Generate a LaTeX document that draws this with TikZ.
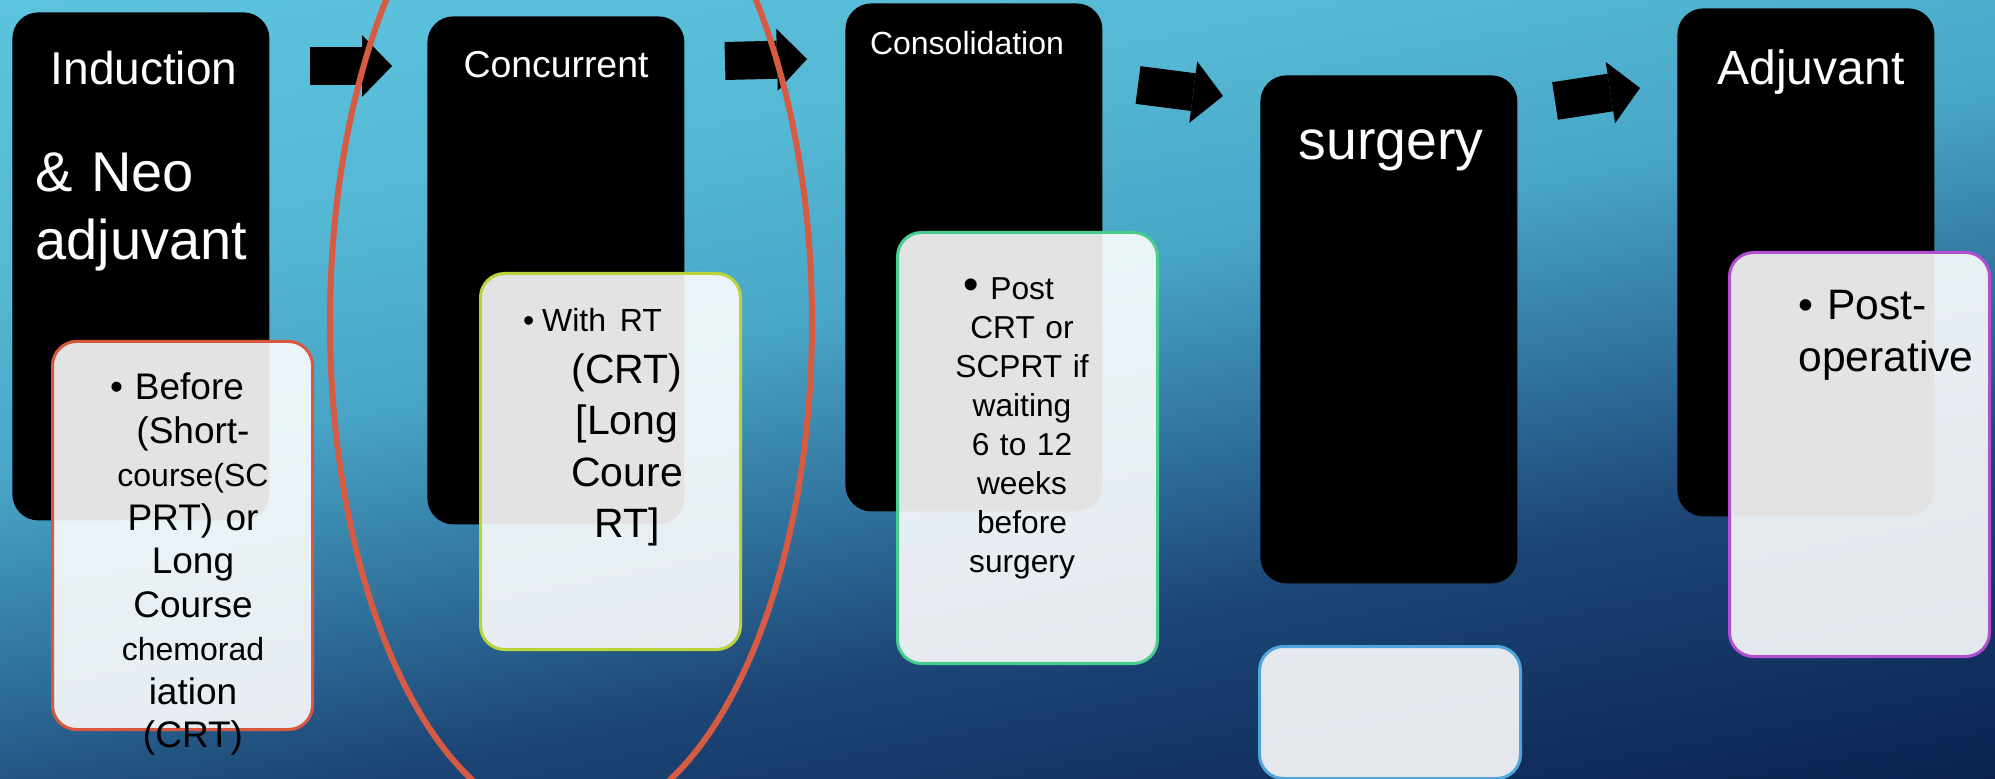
\documentclass[tikz,border=0pt]{standalone}
\usepackage{fontspec}
\setmainfont{Liberation Sans}
\usetikzlibrary{arrows.meta}
\definecolor{bgA}{HTML}{5DC4DE}
\definecolor{bgB}{HTML}{55B8D4}
\definecolor{bgC}{HTML}{48A5C6}
\definecolor{bgD}{HTML}{2F6F9A}
\definecolor{bgE}{HTML}{1C4676}
\definecolor{bgF}{HTML}{0B2250}
\definecolor{ringRed}{HTML}{D75A43}
\definecolor{edgeRed}{HTML}{D9573F}
\definecolor{edgeLime}{HTML}{B9D43B}
\definecolor{edgeGreen}{HTML}{47CD8C}
\definecolor{edgeBlue}{HTML}{4EA6DC}
\definecolor{edgePurple}{HTML}{B24FD0}

\tikzset{
  stagebox/.style={rounded corners=13pt, fill=black, minimum width=128.5pt,
    minimum height=254pt, inner sep=0pt, anchor=north west},
  notebox/.style={rounded corners=12pt, fill=white, fill opacity=0.89,
    line width=1.5pt, minimum width=130pt, inner sep=0pt, anchor=north west},
  stagetitle/.style={text=white, inner sep=0pt, anchor=base},
  notetext/.style={text=black, inner sep=0pt, anchor=base, align=center},
  flowarrow/.style={line width=19pt,
    -{Triangle[length=15pt, width=31pt, line width=0pt]}},
}

\begin{document}
\begin{tikzpicture}[x=0.5pt, y=-0.5pt]
\useasboundingbox (0,0) rectangle (1995,779);
% backdrop, tilted bands
\begin{scope}
\clip (0,0) rectangle (1995,779);
\begin{scope}[transform canvas={rotate around={11:(997.5,389.5)}}]
\foreach \sa/\sb/\ca/\cb in {-800/-573/bgA/bgA, -573/-300/bgA/bgB,
    -300/-100/bgB/bgC, -100/100/bgC/bgD, 100/250/bgD/bgE,
    250/573/bgE/bgF, 573/800/bgF/bgF}
  \shade[top color=\ca, bottom color=\cb] (-500,389.5+\sa) rectangle (2500,390.5+\sb);
\end{scope}
\end{scope}

% stages
\node[stagebox] (induction) at (12,12) {};
\node[stagebox] (concurrent) at (427,16) {};
\node[stagebox] (consolidation) at (845,3) {};
\node[stagebox] (surgery) at (1260,75) {};
\node[stagebox] (adjuvant) at (1677,8) {};

% arrows between stages
\coordinate (a1s) at (310,66);   \coordinate (a1e) at (392,66);
\coordinate (a2s) at (725,61);   \coordinate (a2e) at (807,59);
\coordinate (a3s) at (1138,85);  \coordinate (a3e) at (1223,96);
\coordinate (a4s) at (1555,101); \coordinate (a4e) at (1640,88);
\draw[flowarrow] (a1s) -- (a1e);
\draw[flowarrow] (a2s) -- (a2e);
\draw[flowarrow] (a3s) -- (a3e);
\draw[flowarrow] (a4s) -- (a4e);

% notes
\node[notebox, draw=edgeRed, minimum height=194pt] (beforeNote) at (51,340) {};
\node[notebox, draw=edgeLime, minimum height=188pt] (withNote) at (479,272) {};
\node[notebox, draw=edgeGreen, minimum height=215.5pt] (postNote) at (896,231) {};
\node[notebox, draw=edgeBlue, minimum height=66pt, minimum width=130.5pt] (surgeryNote) at (1258,645) {};
\node[notebox, draw=edgePurple, minimum height=202pt] (postopNote) at (1728,251) {};

% titles
\node[stagetitle, font=\fontsize{23}{27}\selectfont] (inductionTitle) at (144,85) {Induction};
\node[stagetitle, anchor=base west, align=left, text width=120pt,
  font=\fontsize{28}{34}\selectfont] (neoTitle) at (35,192) {\& Neo\\adjuvant};
\node[stagetitle, font=\fontsize{18.7}{22}\selectfont] (concurrentTitle) at (556,78) {Concurrent};
\node[stagetitle, font=\fontsize{16}{19}\selectfont] (consolidationTitle) at (967,55) {Consolidation};
\node[stagetitle, font=\fontsize{27.7}{32}\selectfont] (surgeryTitle) at (1391,160) {surgery};
\node[stagetitle, font=\fontsize{24}{28}\selectfont] (adjuvantTitle) at (1811,85) {Adjuvant};

% note texts
\node[notetext, text width=100pt, font=\fontsize{18.5}{21.75}\selectfont] (beforeText) at (193,400)
  {\makebox[83pt][l]{•\hspace{6pt}Before}\\(Short-\\{\fontsize{16}{21.75}\selectfont course(SC}\\PRT) or\\Long\\Course\\{\fontsize{16}{21.75}\selectfont chemorad}\\iation\\(CRT)};
\node[notetext, text width=110pt, font=\fontsize{20.5}{25.7}\selectfont] (withText) at (627,332)
  {\makebox[104pt][l]{\fontsize{16}{20}\selectfont •\hspace{4pt}With RT}\\(CRT)\\{}[Long\\Coure\\RT]};
\node[notetext, text width=80pt, font=\fontsize{15.85}{19.5}\selectfont] (postText) at (1022,300)
  {\makebox[59pt][l]{{\fontsize{22}{19.5}\selectfont •}\hspace{6pt}Post}\\CRT or\\SCPRT if\\waiting\\6 to 12\\weeks\\before\\surgery};
\node[notetext, anchor=base west, align=left, text width=95pt,
  font=\fontsize{21.3}{26}\selectfont] (postopText) at (1798,320) {• Post-\\operative};

% focus ring
\draw[ringRed, line width=3pt] (571,322) ellipse [x radius=120.5pt, y radius=251pt];
\end{tikzpicture}
\end{document}
